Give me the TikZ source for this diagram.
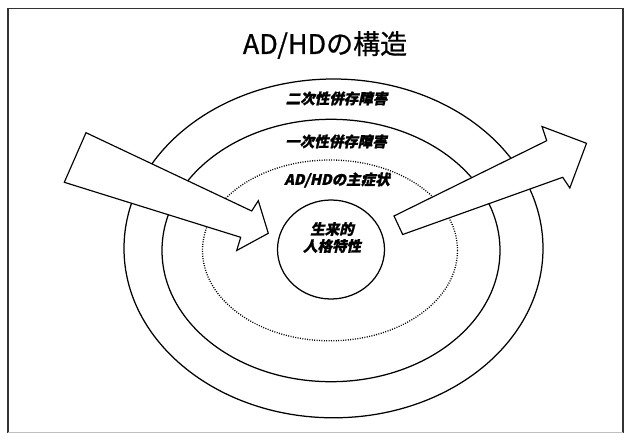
\documentclass[tikz,border=0pt]{standalone}
\usepackage{fontspec}
\newfontfamily\jpfont{Noto Sans CJK JP}[FakeBold=0.8]
\newfontfamily\jplab{Noto Sans CJK JP}[FakeSlant=0.22,BoldFeatures={FakeSlant=0.22,FakeBold=1.2}]
\begin{document}
\begin{tikzpicture}[x=1pt,y=-1pt,
  ring/.style={line width=1.25pt,black},
  dotring/.style={line width=1.3pt,black,dash pattern=on 1pt off 1.4pt},
  bigarrow/.style={line width=1.15pt,black,fill=white,line join=miter},
  ringlabel/.style={font=\jplab\bfseries\fontsize{14.5}{16}\selectfont,inner sep=0pt},
  frameline/.style={line width=1.2pt,black!80}]
\useasboundingbox (0,0) rectangle (631,433);
\fill[white] (0,0) rectangle (631,433);
% frame
\draw[frameline] (8,433) -- (8,8.5) -- (623,8.5) -- (623,433);
\draw[black!25,line width=0.8pt] (8,432) -- (623,432);
% title
\node[font=\jpfont\fontsize{27}{30}\selectfont,inner sep=0pt] (title) at (325,45) {AD/HDの構造};
% rings
\coordinate (c) at (332,249);
\draw[ring] (333.5,248.4) ellipse [x radius=209.5,y radius=169.4];
\draw[ring] (331,250.5) ellipse [x radius=169,y radius=131.2];
\draw[dotring] (330,250.4) ellipse [x radius=127.5,y radius=90.4];
\draw[ring] (331,249.5) ellipse [x radius=53.5,y radius=49.5];
% labels
\node[ringlabel] (l2) at (336.5,98.5) {二次性併存障害};
\node[ringlabel] (l1) at (336,141.5) {一次性併存障害};
\node[ringlabel] (l0) at (337,180) {AD/HDの主症状};
\node[ringlabel,align=center] (core) at (332,237.5) {生来的\\[1pt]人格特性};
% arrows
\draw[bigarrow] (86,132.7) -- (251.7,211) -- (258.3,200.7) -- (268.3,233.3)
  -- (236.7,250.5) -- (240.7,237.3) -- (64.3,182.3) -- cycle;
\draw[bigarrow] (394,216) -- (546.7,140.7) -- (542,126.5) -- (586.5,143.3)
  -- (569.8,188) -- (562.7,177.3) -- (402.7,234.5) -- cycle;
\end{tikzpicture}
\end{document}
